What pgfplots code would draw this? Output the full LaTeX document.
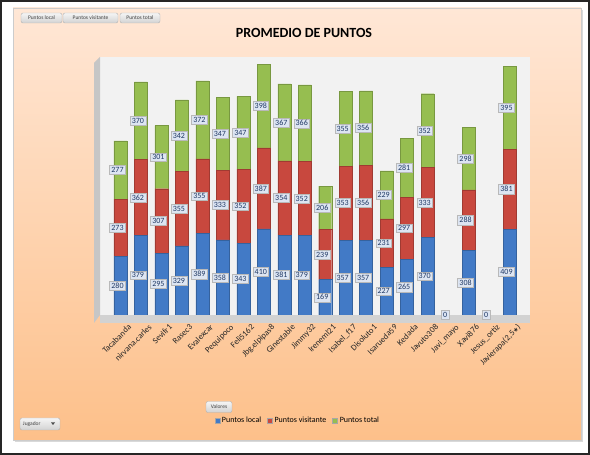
\documentclass[border=0pt]{standalone}
\usepackage{pgfplots}
\pgfplotsset{compat=1.18}
\usepackage{pgfplotstable}
\usepackage{fontspec}
\setmainfont{Carlito}
\newfontfamily\dejavu{DejaVu Sans}
\definecolor{cblue}{RGB}{66,122,198}
\definecolor{cred}{RGB}{200,72,62}
\definecolor{cgreen}{RGB}{150,190,80}
\definecolor{lblfill}{RGB}{221,229,242}
\definecolor{lbltext}{RGB}{31,56,100}
\definecolor{ptop}{RGB}{255,231,214}
\definecolor{pbot}{RGB}{253,192,138}
\pgfplotstableread{
x local visit total
0 280 273 277
1 379 362 370
2 295 307 301
3 329 355 342
4 389 355 372
5 358 333 347
6 343 352 347
7 410 387 398
8 381 354 367
9 379 352 366
10 169 239 206
11 357 353 355
12 357 356 356
13 227 231 229
14 265 297 281
15 370 333 352
16 0 0 0
17 308 288 298
18 0 0 0
19 409 381 395
}\datatable
% label positions: middle of each stacked segment
\pgfplotstablecreatecol[create col/expr={\thisrow{local}/2}]{mlocal}\datatable
\pgfplotstablecreatecol[create col/expr={\thisrow{local}+\thisrow{visit}/2}]{mvisit}\datatable
\pgfplotstablecreatecol[create col/expr={\thisrow{local}+\thisrow{visit}+\thisrow{total}/2}]{mtotal}\datatable
\tikzset{btn/.style={rounded corners=2pt, draw=gray!60, top color=gray!8, bottom color=gray!35, inner sep=1pt,
  font=\fontsize{5.5}{6}\selectfont, text=black!75}}
\pgfplotsset{common/.style={
  at={(100pt,140pt)}, anchor=south west,
  width=430pt, height=258pt, scale only axis,
  xmin=-1, xmax=20, ymin=0, ymax=1230, clip=false}}
\begin{document}
\begin{tikzpicture}[x=1pt,y=1pt]
\useasboundingbox (0,0) rectangle (590,455);
\fill[white] (0,0) rectangle (590,455);
\draw[black!85, line width=2pt] (1,1) rectangle (589,454);
% panel shadow and panel
\fill[gray!30] (15,13) rectangle (583,445);
\shade[top color=ptop, bottom color=pbot] (13,15) rectangle (581,447);
\draw[gray!40, line width=0.4pt] (13,15) rectangle (581,447);
% title
\node[font=\fontsize{14}{16}\selectfont\bfseries] at (304,422) {PROMEDIO DE PUNTOS};
% field buttons
\node[btn, minimum height=10pt, minimum width=41pt] at (41.5,437) {Puntos local};
\node[btn, minimum height=10pt, minimum width=55pt] at (90.5,437) {Puntos visitante};
\node[btn, minimum height=10pt, minimum width=40pt] at (140,437) {Puntos total};
\node[btn, minimum height=11pt, minimum width=26pt] at (219,48) {Valores};
\node[btn, minimum height=12pt, minimum width=40pt, text width=34pt, align=left] at (40,31) {Jugador};
\fill[black!70] (51,32.5) -- (55,32.5) -- (53,30) -- cycle;
\begin{axis}[common,
  ybar stacked, bar width=13pt,
  axis line style={draw=none},
  axis background/.style={fill=gray!10},
  ytick=\empty,
  xtick={0,...,19},
  xticklabels={Tacabanda, nirvana.carles, Sevifr1, Rasec3, Evalexcar, Pequipoco, Feli5162, Jbg.elpipas8, Ginestable, Jimmy32, Ireneml21, Isabel\_f17, Disoluto1, Isarueda59, Kedada, Javuto308, Javi\_mayo, Xavi876, Jesus\_ortiz, {Javierapa(2,5{\dejavu\fontsize{6}{7}\selectfont ★})}},
  major tick length=0pt,
  x tick label style={rotate=45, anchor=north east, font=\fontsize{8.5}{9}\selectfont, text=black!85, inner sep=1pt, yshift=-10pt},
  legend style={at={(0.46,-0.41)}, anchor=center, draw=none, fill=none, font=\fontsize{8}{9}\selectfont,
     legend columns=3, /tikz/every even column/.append style={column sep=4pt}},
  legend image code/.code={\draw[#1, draw=gray!70] (0pt,-2.5pt) rectangle (5pt,2.5pt);},
]
\fill[gray!35] (rel axis cs:0,0) -- (rel axis cs:1,0) -- ([yshift=-8pt]rel axis cs:1,0) -- ([yshift=-8pt]rel axis cs:0,0) -- cycle;
\fill[gray!45] (rel axis cs:0,0) -- (rel axis cs:0,1) -- ([xshift=-6pt,yshift=-6pt]rel axis cs:0,1) -- ([xshift=-6pt,yshift=-8pt]rel axis cs:0,0) -- cycle;
\addplot[draw=cblue!80!black, fill=cblue] table[x=x, y=local] {\datatable};
\addplot[draw=cred!80!black, fill=cred] table[x=x, y=visit] {\datatable};
\addplot[draw=cgreen!80!black, fill=cgreen] table[x=x, y=total] {\datatable};
\legend{Puntos local, Puntos visitante, Puntos total}
\end{axis}
\begin{axis}[common, hide axis,
  /pgf/number format/assume math mode=true,
  point meta=explicit,
  nodes near coords={\pgfmathprintnumber{\pgfplotspointmeta}},
  every node near coord/.append style={anchor=center, xshift=-3pt,
     font=\fontsize{8}{9}\selectfont, fill=lblfill, draw=gray!55, text=lbltext, inner sep=1.8pt},
]
\addplot[draw=none, mark=none] table[x=x, y=mlocal, meta=local] {\datatable};
\addplot[draw=none, mark=none] table[x=x, y=mvisit, meta=visit] {\datatable};
\addplot[draw=none, mark=none] table[x=x, y=mtotal, meta=total] {\datatable};
\end{axis}
\end{tikzpicture}
\end{document}
